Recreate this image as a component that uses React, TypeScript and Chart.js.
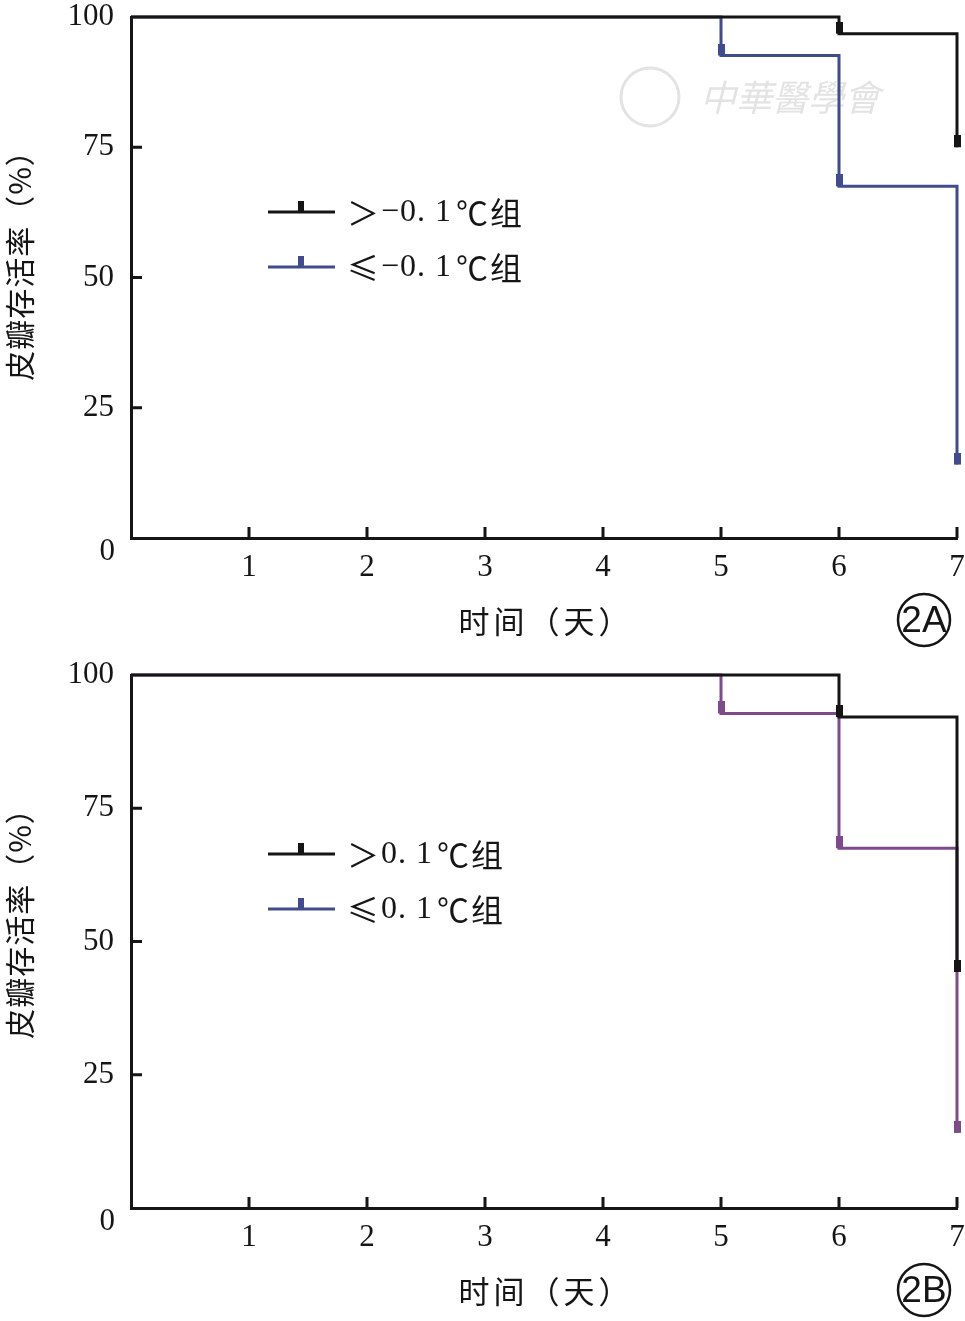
import React, { useEffect, useRef } from 'react';
import Chart from 'chart.js/auto';

// x 轴：天；y 轴：皮瓣存活率（%）
const DAY_TICKS = [0, 1, 2, 3, 4, 5, 6, 7];
const RATE_TICKS = [0, 25, 50, 75, 100];

// 图 2A
const A_HIGH_DAYS = [0, 6, 7];
const A_HIGH_RATE = [100, 96.8, 75];
const A_LOW_DAYS = [0, 5, 6, 7];
const A_LOW_RATE = [100, 92.6, 67.5, 14.1];
const A_LABELS = ['＞−0. 1℃组', '≤−0. 1℃组'];

// 图 2B
const B_HIGH_DAYS = [0, 6, 7];
const B_HIGH_RATE = [100, 92.1, 44.3];
const B_LOW_DAYS = [0, 5, 6, 7];
const B_LOW_RATE = [100, 92.8, 67.5, 14.1];
const B_LABELS = ['＞0. 1℃组', '≤0. 1℃组'];

const X_TITLE = '时间（天）';
const Y_TITLE = '皮瓣存活率（%）';

const INK = '#151515';
const BLUE = '#414c8e';
const PURPLE = '#7e4a8b';
const SERIF = '"Liberation Serif", serif';
const CJK = '"Noto Sans CJK SC", sans-serif';

interface Series {
    days: number[];
    rate: number[];
    color: string;
}

interface PanelProps {
    height: number;
    plotTop: number;
    xAxisHeight: number;
    series: Series[];
    labels: string[];
    legendColors: string[];
    legendY: number;
    yTitleY: number;
    tag: string;
    watermark?: boolean;
}

// 删失标记：竖直小块，下沿落在曲线上
const censorMark = (color: string) => {
    const c = document.createElement('canvas');
    c.width = 7;
    c.height = 24;
    const g = c.getContext('2d')!;
    g.fillStyle = color;
    g.fillRect(0, 0, 7, 12);
    return c;
};

// 数字用衬线体，符号和汉字用 CJK 字体
const drawMixed = (ctx: CanvasRenderingContext2D, text: string, x: number, y: number, size: number) => {
    let cx = x;
    for (const ch of text) {
        const latin = /[0-9.\s−]/.test(ch);
        ctx.font = latin ? `${size}px ${SERIF}` : `${size}px ${CJK}`;
        if (ch === '℃') cx += 4;
        ctx.fillText(ch, cx, y);
        cx += ctx.measureText(ch).width + (latin ? 1 : 2);
    }
};

const decorPlugin = (p: PanelProps) => ({
    id: 'kmDecor',
    beforeDatasetsDraw(chart: Chart) {
        const { ctx, chartArea: a } = chart;
        const x = chart.scales.x;
        const y = chart.scales.y;
        ctx.save();

        if (p.watermark) {
            ctx.strokeStyle = '#e3e3e3';
            ctx.fillStyle = '#e3e3e3';
            ctx.lineWidth = 3;
            ctx.beginPath();
            ctx.arc(650, 97, 29, 0, Math.PI * 2);
            ctx.stroke();
            ctx.font = 'italic 36px ' + CJK;
            ctx.textBaseline = 'middle';
            ctx.textAlign = 'left';
            ctx.fillText('中華醫學會', 700, 97);
        }

        // 向内的刻度
        ctx.strokeStyle = INK;
        ctx.lineWidth = 3;
        ctx.beginPath();
        DAY_TICKS.filter((d) => d > 0).forEach((d) => {
            const px = x.getPixelForValue(d);
            ctx.moveTo(px, a.bottom);
            ctx.lineTo(px, a.bottom - 11);
        });
        RATE_TICKS.filter((v) => v > 0 && v < 100).forEach((v) => {
            const py = y.getPixelForValue(v);
            ctx.moveTo(a.left, py);
            ctx.lineTo(a.left + 11, py);
        });
        ctx.stroke();

        // y 轴的 0 略低于轴线
        ctx.fillStyle = INK;
        ctx.font = '31px ' + SERIF;
        ctx.textAlign = 'right';
        ctx.textBaseline = 'middle';
        ctx.fillText('0', a.left - 16, y.getPixelForValue(0) + 14);

        // 轴标题
        ctx.textAlign = 'center';
        ctx.font = '31px ' + CJK;
        (ctx as any).letterSpacing = '4px';
        ctx.fillText(X_TITLE, (a.left + a.right) / 2 + 2, a.bottom + 83);
        (ctx as any).letterSpacing = '1px';
        ctx.font = '30px ' + CJK;
        ctx.save();
        ctx.translate(20, p.yTitleY);
        ctx.rotate(-Math.PI / 2);
        ctx.fillText(Y_TITLE, 0, 0);
        ctx.restore();
        (ctx as any).letterSpacing = '0px';

        // 图例
        p.labels.forEach((label, i) => {
            const ly = p.legendY + i * 55;
            ctx.strokeStyle = p.legendColors[i];
            ctx.fillStyle = p.legendColors[i];
            ctx.lineWidth = 3;
            ctx.beginPath();
            ctx.moveTo(268, ly);
            ctx.lineTo(335, ly);
            ctx.stroke();
            ctx.fillRect(298, ly - 11, 6, 11);
            ctx.fillStyle = INK;
            ctx.textAlign = 'left';
            drawMixed(ctx, label, 347, ly + 1, 32);
        });

        // 圆圈编号
        const cx = 924;
        const cy = a.bottom + 82;
        ctx.strokeStyle = INK;
        ctx.lineWidth = 2.5;
        ctx.beginPath();
        ctx.arc(cx, cy, 26, 0, Math.PI * 2);
        ctx.stroke();
        ctx.font = '37px "Liberation Sans Narrow", "Liberation Sans", sans-serif';
        ctx.textAlign = 'center';
        ctx.fillText(p.tag, cx, cy + 2);

        ctx.restore();
    },
});

const Panel = (p: PanelProps) => {
    const chartRef = useRef<HTMLCanvasElement>(null);

    useEffect(() => {
        if (!chartRef.current) return;
        const chart = new Chart(chartRef.current, {
            type: 'line',
            data: {
                datasets: p.series.map((s) => ({
                    data: s.days.map((d, i) => ({ x: d, y: s.rate[i] })),
                    borderColor: s.color,
                    backgroundColor: s.color,
                    borderWidth: 3,
                    stepped: true,
                    fill: false,
                    clip: 6,
                    pointStyle: censorMark(s.color),
                    pointRadius: s.days.map((_, i) => (i === 0 ? 0 : 2)),
                    pointHoverRadius: 0,
                })),
            },
            options: {
                responsive: false,
                animation: false,
                events: [],
                layout: { padding: { top: p.plotTop, right: 8, left: 0, bottom: 0 } },
                plugins: { legend: { display: false }, tooltip: { enabled: false } },
                scales: {
                    x: {
                        type: 'linear',
                        min: 0,
                        max: 7,
                        border: { display: true, color: INK, width: 3 },
                        grid: { drawOnChartArea: false, drawTicks: false, color: 'rgba(0,0,0,0)' },
                        afterBuildTicks: (s: any) => {
                            s.ticks = DAY_TICKS.map((v) => ({ value: v }));
                        },
                        afterFit: (s: any) => {
                            s.height = p.xAxisHeight;
                            s.paddingLeft = 0;
                            s.paddingRight = 0;
                        },
                        ticks: {
                            padding: 11,
                            autoSkip: false,
                            maxRotation: 0,
                            color: INK,
                            font: { family: SERIF, size: 31 },
                            callback: (v: any) => (v === 0 ? '' : String(v)),
                        },
                    },
                    y: {
                        type: 'linear',
                        min: 0,
                        max: 100,
                        border: { display: true, color: INK, width: 3 },
                        grid: { drawOnChartArea: false, drawTicks: false, color: 'rgba(0,0,0,0)' },
                        afterBuildTicks: (s: any) => {
                            s.ticks = RATE_TICKS.map((v) => ({ value: v }));
                        },
                        afterFit: (s: any) => {
                            s.width = 131;
                            s.paddingTop = 0;
                            s.paddingBottom = 0;
                        },
                        ticks: {
                            padding: 17,
                            color: INK,
                            font: { family: SERIF, size: 31 },
                            callback: (v: any) => (v === 0 ? '' : String(v)),
                        },
                    },
                },
            },
            plugins: [decorPlugin(p)],
        } as any);

        return () => {
            chart.destroy();
        };
    }, [chartRef]);

    return <canvas ref={chartRef} width={965} height={p.height} style={{ display: 'block' }} />;
};

export default function App() {
    useEffect(() => {
        document.body.style.margin = '0';
    }, []);

    return (
        <div style={{ width: 965, background: '#fff' }}>
            <Panel
                height={660}
                plotTop={17}
                xAxisHeight={122}
                series={[
                    { days: A_HIGH_DAYS, rate: A_HIGH_RATE, color: INK },
                    { days: A_LOW_DAYS, rate: A_LOW_RATE, color: BLUE },
                ]}
                labels={A_LABELS}
                legendColors={[INK, BLUE]}
                legendY={212}
                yTitleY={258}
                tag="2A"
                watermark
            />
            <Panel
                height={661}
                plotTop={15}
                xAxisHeight={113}
                series={[
                    { days: B_HIGH_DAYS, rate: B_HIGH_RATE, color: INK },
                    { days: B_LOW_DAYS, rate: B_LOW_RATE, color: PURPLE },
                ]}
                labels={B_LABELS}
                legendColors={[INK, BLUE]}
                legendY={194}
                yTitleY={256}
                tag="2B"
            />
        </div>
    );
}
